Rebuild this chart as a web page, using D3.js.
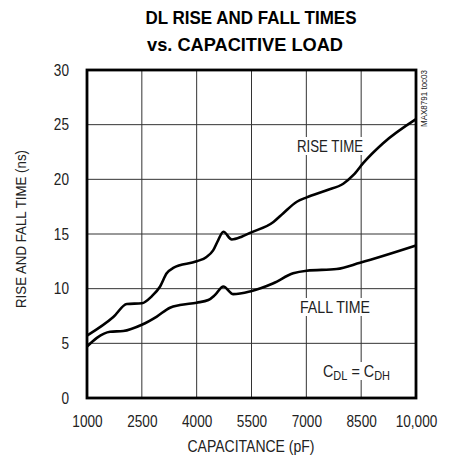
<!DOCTYPE html>
<html>
<head>
<meta charset="utf-8">
<script src="https://cdn.jsdelivr.net/npm/d3@7"></script>
<style>
  body { margin: 0; background: #fff; }
  text { font-family: "Liberation Sans", Arial, sans-serif; fill: #222; }
</style>
</head>
<body>
<div id="svg-container"></div>
<script>
// Chart data
const xTicks = [1000, 2500, 4000, 5500, 7000, 8500, 10000];
const yTicks = [0, 5, 10, 15, 20, 25, 30];

const riseCap = [1000, 1720, 2090, 2500, 2770, 3000, 3180, 3360, 4000, 4270, 4450, 4590, 4730, 4960, 5230, 5460, 6100, 6370, 6740, 7010, 7560, 8010, 8290, 8560, 9100, 10000];
const riseTime = [5.7, 7.4, 8.6, 8.66, 9.3, 10.2, 11.4, 11.9, 12.5, 12.9, 13.5, 14.45, 15.2, 14.5, 14.75, 15.1, 16.1, 16.9, 17.95, 18.35, 19.0, 19.6, 20.4, 21.5, 23.3, 25.5];

const fallCap = [1000, 1270, 1630, 1990, 2500, 2910, 3270, 3540, 4000, 4320, 4500, 4730, 5000, 5460, 6100, 6640, 7010, 7830, 8470, 10000];
const fallTime = [4.7, 5.5, 6.06, 6.13, 6.7, 7.45, 8.26, 8.5, 8.72, 8.96, 9.42, 10.2, 9.5, 9.75, 10.5, 11.4, 11.64, 11.8, 12.37, 13.95];

const width = 450;
const height = 460;
const margins = { top: 70, right: 34, bottom: 62, left: 87 };
const innerWidth = width - margins.left - margins.right;
const innerHeight = height - margins.top - margins.bottom;

// squeeze text horizontally to mimic the condensed face of the original
function condense(sel, f) {
  sel.each(function() {
    const w = this.getComputedTextLength();
    d3.select(this).attr("textLength", w * f).attr("lengthAdjust", "spacingAndGlyphs");
  });
}

const xScale = d3.scaleLinear().domain([1000, 10000]).range([0, innerWidth]);
const yScale = d3.scaleLinear().domain([0, 30]).range([innerHeight, 0]);

const svg = d3.select("#svg-container")
  .append("svg")
    .attr("width", width)
    .attr("height", height);

// Title
svg.append("text")
  .attr("x", 251).attr("y", 24)
  .attr("text-anchor", "middle")
  .style("font-weight", "bold").style("font-size", "19px").style("fill", "#000")
  .attr("textLength", 211).attr("lengthAdjust", "spacingAndGlyphs")
  .text("DL RISE AND FALL TIMES");
svg.append("text")
  .attr("x", 245).attr("y", 51)
  .attr("text-anchor", "middle")
  .style("font-weight", "bold").style("font-size", "19px").style("fill", "#000")
  .attr("textLength", 196).attr("lengthAdjust", "spacingAndGlyphs")
  .text("vs. CAPACITIVE LOAD");

const mainG = svg.append("g")
  .attr("transform", `translate(${margins.left}, ${margins.top})`);

// Grid
mainG.append("g")
  .selectAll("line")
  .data(xTicks)
  .enter().append("line")
    .attr("x1", d => xScale(d)).attr("x2", d => xScale(d))
    .attr("y1", 0).attr("y2", innerHeight)
    .attr("stroke", "#333").attr("stroke-width", 1);

mainG.append("g")
  .selectAll("line")
  .data(yTicks)
  .enter().append("line")
    .attr("x1", 0).attr("x2", innerWidth)
    .attr("y1", d => yScale(d)).attr("y2", d => yScale(d))
    .attr("stroke", "#333").attr("stroke-width", 1);

// Axes (labels only)
const xAxis = mainG.append("g")
  .attr("transform", `translate(0, ${innerHeight})`)
  .call(d3.axisBottom(xScale).tickValues(xTicks).tickSize(0).tickPadding(18)
    .tickFormat(d => d === 10000 ? "10,000" : String(d)));
xAxis.select(".domain").remove();
xAxis.selectAll("text").style("font-size", "16px").style("font-family", null).style("fill", "#222");
condense(xAxis.selectAll("text"), 0.85);

const yAxis = mainG.append("g")
  .call(d3.axisLeft(yScale).tickValues(yTicks).tickSize(0).tickPadding(18));
yAxis.select(".domain").remove();
yAxis.selectAll("text").style("font-size", "16px").style("font-family", null).style("fill", "#222");
condense(yAxis.selectAll("text"), 0.85);

// Frame
mainG.append("rect")
  .attr("width", innerWidth).attr("height", innerHeight)
  .attr("fill", "none").attr("stroke", "#000").attr("stroke-width", 2.8);

// Lines
const line = d3.line()
  .x(d => xScale(d[0]))
  .y(d => yScale(d[1]))
  .curve(d3.curveMonotoneX);

mainG.append("path")
  .attr("d", line(riseCap.map((c, i) => [c, riseTime[i]])))
  .attr("fill", "none").attr("stroke", "#000").attr("stroke-width", 2.6);

mainG.append("path")
  .attr("d", line(fallCap.map((c, i) => [c, fallTime[i]])))
  .attr("fill", "none").attr("stroke", "#000").attr("stroke-width", 2.6);

// Annotations (white backing so gridlines break behind them, as in the original)
const ann = mainG.append("g").style("font-size", "17px");
function label(x, y, w, txt) {
  ann.append("rect").attr("x", x - w / 2 - 2).attr("y", y - 15).attr("width", w + 4).attr("height", 18).attr("fill", "#fff");
  ann.append("text").attr("x", x).attr("y", y).attr("text-anchor", "middle")
    .attr("textLength", w).attr("lengthAdjust", "spacingAndGlyphs").text(txt);
}
label(243, 82, 66, "RISE TIME");
label(248, 243, 70, "FALL TIME");

ann.append("rect").attr("x", 235).attr("y", 292).attr("width", 70).attr("height", 18).attr("fill", "#fff");
const cText = ann.append("text").attr("x", 236).attr("y", 307)
  .attr("textLength", 67).attr("lengthAdjust", "spacingAndGlyphs");
cText.append("tspan").text("C");
cText.append("tspan").attr("dy", 3).style("font-size", "13px").text("DL");
cText.append("tspan").attr("dy", -3).text(" = C");
cText.append("tspan").attr("dy", 3).style("font-size", "13px").text("DH");

// Axis titles
svg.append("text")
  .attr("x", 251).attr("y", 452)
  .attr("text-anchor", "middle")
  .style("font-size", "16px")
  .attr("textLength", 127).attr("lengthAdjust", "spacingAndGlyphs")
  .text("CAPACITANCE (pF)");

svg.append("text")
  .attr("transform", "translate(26, 229) rotate(-90)")
  .attr("text-anchor", "middle")
  .style("font-size", "15px")
  .attr("textLength", 158).attr("lengthAdjust", "spacingAndGlyphs")
  .text("RISE AND FALL TIME (ns)");

// Figure tag
svg.append("text")
  .attr("transform", "translate(427, 127) rotate(-90)")
  .style("font-size", "9px")
  .attr("textLength", 57).attr("lengthAdjust", "spacingAndGlyphs")
  .text("MAX8791 toc03");
</script>
</body>
</html>
